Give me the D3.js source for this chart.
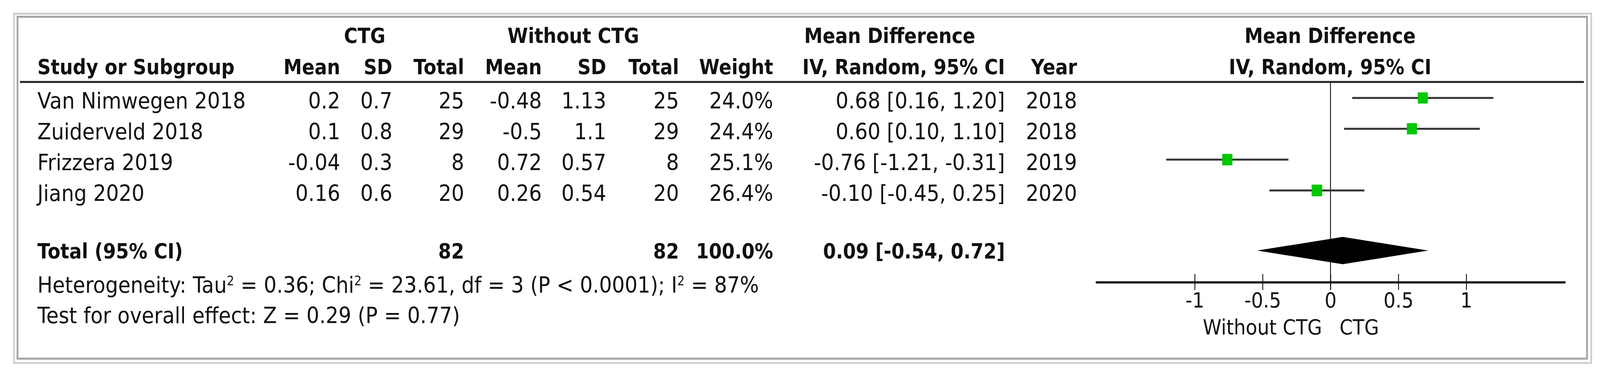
<!DOCTYPE html>
<html>
<head>
<meta charset="utf-8">
<script src="https://cdn.jsdelivr.net/npm/d3@7"></script>
<style>
  html, body { margin: 0; padding: 0; background: #fff; overflow: hidden; }
  #chart svg { display: block; }
  text { font-family: "DejaVu Sans", Verdana, sans-serif; fill: #111; }
</style>
</head>
<body>
<div id="chart"></div>
<script>
// study data
const studies = ["Van Nimwegen 2018", "Zuiderveld 2018", "Frizzera 2019", "Jiang 2020"];
const ctgMean = [0.2, 0.1, -0.04, 0.16];
const ctgSD = [0.7, 0.8, 0.3, 0.6];
const ctgTotal = [25, 29, 8, 20];
const ctrlMean = [-0.48, -0.5, 0.72, 0.26];
const ctrlSD = [1.13, 1.1, 0.57, 0.54];
const ctrlTotal = [25, 29, 8, 20];
const weights = [24.0, 24.4, 25.1, 26.4];
const md = [0.68, 0.60, -0.76, -0.10];
const lower = [0.16, 0.10, -1.21, -0.45];
const upper = [1.20, 1.10, -0.31, 0.25];
const years = [2018, 2018, 2019, 2020];

// pooled result
const totalN = [82, 82];
const totalWeight = 100.0;
const pooled = [0.09, -0.54, 0.72]; // estimate, lower, upper

const tickValues = [-1, -0.5, 0, 0.5, 1];

const width = 4571, height = 966;
const fsReg = 57.5, fsBold = 53;

// fit the drawing to whatever the window really is
const svg = d3.select("#chart").append("svg")
    .attr("viewBox", `0 0 ${width} ${height}`)
    .attr("width", window.innerWidth || width)
    .attr("height", window.innerHeight || height)
    .attr("preserveAspectRatio", "none");

svg.append("rect").attr("width", width).attr("height", height).attr("fill", "#fff");

// frame (outer light line, inner darker line)
svg.append("rect")
    .attr("x", 40).attr("y", 35).attr("width", 4506).attr("height", 895)
    .attr("fill", "none").attr("stroke", "#cfcfcf").attr("stroke-width", 5);
svg.append("rect")
    .attr("x", 50).attr("y", 43).attr("width", 4484).attr("height", 876)
    .attr("fill", "none").attr("stroke", "#a2a2a2").attr("stroke-width", 5);

const fmt = v => v.toFixed(2);
const rawNum = v => String(v);

// layout
const rowY = d3.scaleLinear().domain([0, studies.length - 1]).range([278, 515]);
const totalY = 662;
const x = d3.scaleLinear().domain([-1.73, 1.73]).range([3130, 4472]);

function addText(txt, px, py, anchor, bold) {
    return svg.append("text")
        .attr("x", px).attr("y", py)
        .attr("text-anchor", anchor)
        .style("font-size", (bold ? fsBold : fsReg) + "px")
        .style("font-weight", bold ? "bold" : "normal")
        .text(txt);
}

// header row 1
addText("CTG", 1042, 110, "middle", true);
addText("Without CTG", 1638, 110, "middle", true);
addText("Mean Difference", 2542, 110, "middle", true);
addText("Mean Difference", 3800, 110, "middle", true);

// header row 2
addText("Study or Subgroup", 107, 190, "start", true);
const columns = [
    {label: "Mean", x: 972, vals: ctgMean.map(rawNum)},
    {label: "SD", x: 1121, vals: ctgSD.map(rawNum)},
    {label: "Total", x: 1326, vals: ctgTotal.map(rawNum)},
    {label: "Mean", x: 1548, vals: ctrlMean.map(rawNum)},
    {label: "SD", x: 1732, vals: ctrlSD.map(rawNum)},
    {label: "Total", x: 1940, vals: ctrlTotal.map(rawNum)},
    {label: "Weight", x: 2209, vals: weights.map(w => w.toFixed(1) + "%")},
    {label: "IV, Random, 95% CI", x: 2871, vals: md.map((m, i) => `${fmt(m)} [${fmt(lower[i])}, ${fmt(upper[i])}]`)},
    {label: "Year", x: 3077, vals: years.map(rawNum)}
];
columns.forEach(col => {
    addText(col.label, col.x, 190, "end", true);
    svg.append("g").selectAll("text")
        .data(col.vals)
        .join("text")
        .attr("x", col.x)
        .attr("y", (d, i) => rowY(i))
        .attr("text-anchor", "end")
        .style("font-size", fsReg + "px")
        .text(d => d);
});
addText("IV, Random, 95% CI", 3800, 190, "middle", true);

// header rule
svg.append("line")
    .attr("x1", 57).attr("x2", 4525)
    .attr("y1", 210).attr("y2", 210)
    .attr("stroke", "#222").attr("stroke-width", 5);

// study names
svg.append("g").selectAll("text")
    .data(studies)
    .join("text")
    .attr("x", 107)
    .attr("y", (d, i) => rowY(i))
    .style("font-size", fsReg + "px")
    .text(d => d);

// total row
addText("Total (95% CI)", 107, totalY, "start", true);
addText(String(totalN[0]), 1326, totalY, "end", true);
addText(String(totalN[1]), 1940, totalY, "end", true);
addText(totalWeight.toFixed(1) + "%", 2209, totalY, "end", true);
addText(`${fmt(pooled[0])} [${fmt(pooled[1])}, ${fmt(pooled[2])}]`, 2871, totalY, "end", true);

// heterogeneity / overall effect
const het = svg.append("text").attr("x", 107).attr("y", 750).style("font-size", fsReg + "px");
[["Heterogeneity: Tau", false], ["2", true], [" = 0.36; Chi", false], ["2", true],
 [" = 23.61, df = 3 (P < 0.0001); I", false], ["2", true], [" = 87%", false]].forEach(([t, s]) => {
    const ts = het.append("tspan").text(t);
    if (s) ts.style("font-size", "33px").attr("baseline-shift", "super");
});
addText("Test for overall effect: Z = 0.29 (P = 0.77)", 107, 828, "start", false);

// forest plot: zero line
svg.append("line")
    .attr("x1", x(0)).attr("x2", x(0))
    .attr("y1", 210).attr("y2", 743)
    .attr("stroke", "#111").attr("stroke-width", 2.5);

// CI lines
svg.append("g").selectAll("line")
    .data(studies)
    .join("line")
    .attr("x1", (d, i) => x(lower[i]))
    .attr("x2", (d, i) => x(upper[i]))
    .attr("y1", (d, i) => rowY(i) - 27)
    .attr("y2", (d, i) => rowY(i) - 27)
    .attr("stroke", "#333").attr("stroke-width", 5);

// squares, size from weight
const sq = d3.scaleSqrt().domain([0, 26.4]).range([0, 30]);
svg.append("g").selectAll("rect")
    .data(studies)
    .join("rect")
    .attr("x", (d, i) => x(md[i]) - sq(weights[i]) / 2)
    .attr("y", (d, i) => rowY(i) - 27 - sq(weights[i]) / 2)
    .attr("width", (d, i) => sq(weights[i]))
    .attr("height", (d, i) => sq(weights[i]))
    .attr("fill", "#00c800");

// pooled diamond
const dy = 642, dh = 35;
svg.append("path")
    .attr("d", `M${x(pooled[1])},${dy} L${x(pooled[0])},${dy - dh} L${x(pooled[2])},${dy} L${x(pooled[0])},${dy + dh} Z`)
    .attr("fill", "#000");

// axis, ticks cross the line
const axis = d3.axisBottom(x)
    .tickValues(tickValues)
    .tickSizeInner(20)
    .tickSizeOuter(0)
    .tickPadding(7)
    .tickFormat(d => String(d));
const ax = svg.append("g")
    .attr("transform", "translate(0,723)")
    .call(axis);
ax.select(".domain").attr("stroke", "#222").attr("stroke-width", 6);
ax.selectAll(".tick line").attr("stroke", "#111").attr("stroke-width", 2.5).attr("y1", -21).attr("y2", 20);
ax.selectAll(".tick text")
    .style("font-family", "'DejaVu Sans', sans-serif")
    .style("font-size", "54px")
    .attr("fill", "#111");

addText("Without CTG", x(0) - 24, 857, "end", false).style("font-size", "54px");
addText("CTG", x(0) + 26, 857, "start", false).style("font-size", "54px");
</script>
</body>
</html>
